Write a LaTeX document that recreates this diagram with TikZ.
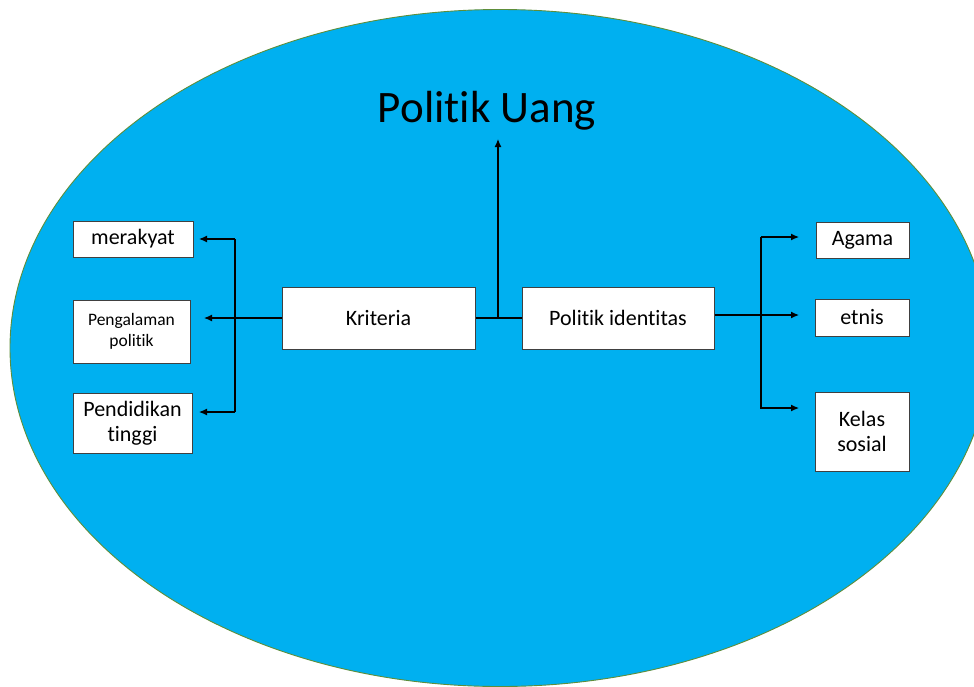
\documentclass[tikz,border=0pt]{standalone}
\usepackage{fontspec}
\setmainfont{Carlito}[RawFeature={-liga;-dlig;-clig}]
\usetikzlibrary{arrows.meta}
\definecolor{skyfill}{HTML}{00B0F0}
\definecolor{rimgreen}{HTML}{5E8E3A}
\definecolor{boxline}{HTML}{404040}
\tikzset{
  stepbox/.style={draw=boxline, line width=1pt, fill=white, inner sep=0pt, align=center, font=\fontsize{22}{27}\selectfont},
  conn/.style={line width=1.2pt, black},
  arr/.style={conn, -{Latex[length=8pt,width=7pt]}}
}
\begin{document}
\begin{tikzpicture}[x=1pt,y=-1pt]
\useasboundingbox (0,0) rectangle (974,686);
\clip (0,0) rectangle (974,686);
\fill[white] (0,0) rectangle (974,686);
\draw[fill=skyfill, draw=rimgreen, line width=0.9pt] (500,348) ellipse [x radius=490, y radius=338.5];

\node[anchor=base, font=\fontsize{45}{50}\selectfont] (title) at (487,122) {Politik Uang};

\node[stepbox, minimum width=120pt, minimum height=36pt] (mer) at (133,239) {merakyat};
\node[stepbox, minimum width=117pt, minimum height=63pt, font=\fontsize{17.5}{20.5}\selectfont] (peng) at (131.5,331.5) {Pengalaman\\politik};
\node[stepbox, minimum width=119pt, minimum height=60pt, font=\fontsize{22}{25}\selectfont] (pend) at (132.5,423) {Pendidikan\\tinggi};
\node[stepbox, minimum width=193pt, minimum height=62pt] (krit) at (378.5,318) {Kriteria};
\node[stepbox, minimum width=192pt, minimum height=62pt] (pid) at (618,318) {Politik identitas};
\node[stepbox, minimum width=93pt, minimum height=36pt] (aga) at (862.5,240) {Agama};
\node[stepbox, minimum width=94pt, minimum height=37pt] (etn) at (862,317.5) {etnis};
\node[stepbox, minimum width=94pt, minimum height=79pt, font=\fontsize{22}{25}\selectfont] (kel) at (862,431.5) {Kelas\\sosial};

% left side
\coordinate (lTop) at (235,239);
\coordinate (lBot) at (235,412);
\coordinate (tMer) at (199,239);
\coordinate (tPeng) at (204,318);
\coordinate (tPend) at (199,412);
\draw[arr] (krit.west) -- (tPeng);
\draw[conn] (lTop) -- (lBot);
\draw[arr] (lTop) -- (tMer);
\draw[arr] (lBot) -- (tPend);

% centre
\coordinate (mid) at (498,318);
\coordinate (tUp) at (498,139);
\draw[conn] (krit.east) -- (pid.west);
\draw[arr] (mid) -- (tUp);

% right side
\coordinate (rTop) at (761,237);
\coordinate (rMid) at (761,315);
\coordinate (rBot) at (761,409);
\coordinate (rKel) at (761,408);
\coordinate (tAga) at (799,237);
\coordinate (tEtn) at (799,315);
\coordinate (tKel) at (799,408);
\draw[conn] (pid.east |- rMid) -- (rMid);
\draw[arr] (rMid) -- (tEtn);
\draw[conn] (rTop) -- (rBot);
\draw[arr] (rTop) -- (tAga);
\draw[arr] (rKel) -- (tKel);
\end{tikzpicture}
\end{document}
